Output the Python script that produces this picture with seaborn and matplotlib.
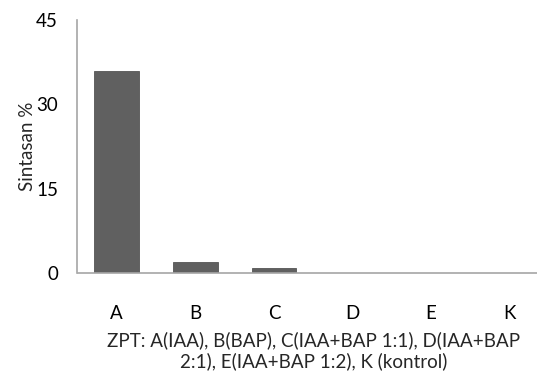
import matplotlib
matplotlib.use("Agg")
import matplotlib.pyplot as plt
import seaborn as sns
import pandas as pd

categories = ["A", "B", "C", "D", "E", "K"]
values = [36, 2, 0.9, 0, 0, 0]
y_ticks = [0, 15, 30, 45]
x_label = "ZPT: A(IAA), B(BAP), C(IAA+BAP 1:1), D(IAA+BAP\n2:1), E(IAA+BAP 1:2), K (kontrol)"
y_label = "Sintasan %"

sns.set_style("white")
plt.rcParams['font.family'] = ['Lato', 'DejaVu Sans']

df = pd.DataFrame({"cat": categories, "val": values})

fig = plt.figure(figsize=(5.37, 3.90), dpi=100)
W, H = 537, 390
left, right, top, bottom = 77.5, 549, 20, 273
ax = fig.add_axes([left / W, 1 - bottom / H, (right - left) / W, (bottom - top) / H])

sns.barplot(data=df, x="cat", y="val", ax=ax, color="#606060", width=0.57,
            edgecolor="#555555", linewidth=0.6, saturation=1)

FS = 13.5
ax.set_ylim(0, 45)
ax.set_xlim(-0.5, 5.5)
ax.set_yticks(y_ticks)
ax.tick_params(axis="both", length=0, labelsize=FS, colors="#000000")
ax.tick_params(axis="y", pad=14)
ax.tick_params(axis="x", pad=23)
for s in ["top", "right"]:
    ax.spines[s].set_visible(False)
for s in ["left", "bottom"]:
    ax.spines[s].set_color("#a6a6a6")
    ax.spines[s].set_linewidth(1.2)

ax.set_ylabel(y_label, fontsize=FS, labelpad=0)
ax.set_xlabel(x_label, fontsize=FS, labelpad=7, linespacing=1.2)

fig.savefig("out.png", dpi=100)
